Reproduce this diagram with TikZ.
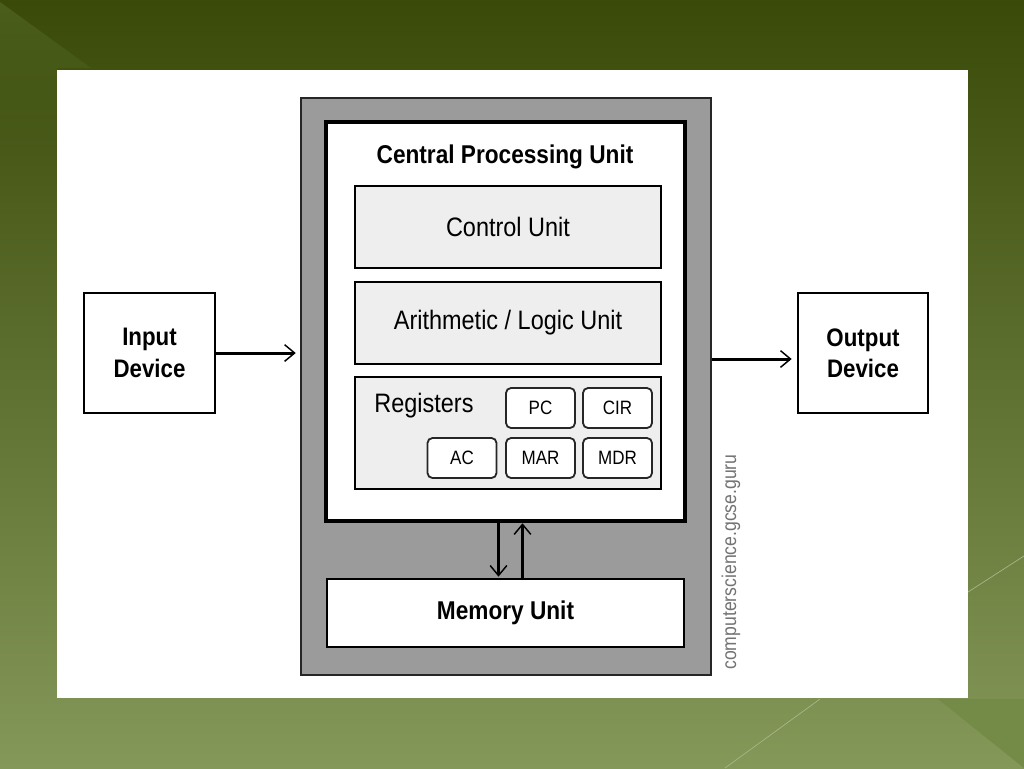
\documentclass[tikz,border=0pt]{standalone}
\usepackage{fontspec}
\setmainfont{Liberation Sans}[FakeStretch=0.88]
\usepackage{tikz}
\usetikzlibrary{arrows.meta,fadings}
\newdimen\px \px=0.75pt
\definecolor{olivetop}{HTML}{3A4A08}
\definecolor{olivebot}{HTML}{849859}
\definecolor{olivelite}{HTML}{4B5E1C}
\definecolor{olivewedge}{HTML}{748A47}
\definecolor{framegray}{HTML}{9B9B9B}
\definecolor{unitgray}{HTML}{EEEEEE}
\tikzstyle{framebox} = [draw=black!85, fill=framegray, line width=2.5\px, rectangle, minimum width=410\px, minimum height=577\px, inner sep=0pt]
\tikzstyle{cpubox} = [draw=black, fill=white, line width=4.5\px, rectangle, minimum width=359\px, minimum height=399\px, inner sep=0pt]
\tikzstyle{unitbox} = [draw=black, fill=unitgray, line width=2\px, rectangle, minimum width=306\px, minimum height=82\px, inner sep=0pt, font=\fontsize{20}{22}\selectfont]
\tikzstyle{regbox} = [draw=black!85, fill=white, line width=1.8\px, rectangle, rounded corners=5\px, minimum width=69\px, minimum height=40\px, inner sep=0pt, font=\fontsize{14.5}{16}\selectfont]
\tikzstyle{devbox} = [draw=black, fill=white, line width=2\px, rectangle, minimum width=131\px, minimum height=120\px, inner sep=0pt, align=center, font=\bfseries\fontsize{19}{23.5}\selectfont]
\tikzstyle{arr} = [line width=2.25pt, -{Straight Barb[length=7.5pt, width=12.5pt, line width=1.1pt]}]

\begin{document}
\begin{tikzpicture}[x=0.75pt,y=-0.75pt]
\useasboundingbox (0,0) rectangle (1024,768);
% slide background
\fill[top color=olivetop, bottom color=olivebot] (0,0) rectangle (1024,768);
\fill[olivelite, path fading=south] (0,2) -- (91,68) -- (57,68) -- (57,180) -- (0,180) -- cycle;
\fill[olivewedge] (938,699) -- (1024,768) -- (1024,699) -- cycle;
\draw[olivebot!70!white, line width=0.5pt] (820,699) -- (725,768);
\draw[olivebot!70!white, line width=0.5pt] (968,592) -- (1024,556);
\fill[white] (57,70) rectangle (968,698);

% computer
\node[framebox] (outer) at (506,386.5) {};
\node[cpubox] (cpu) at (505.5,321.5) {};
\node[font=\bfseries\fontsize{19.3}{21}\selectfont] (cputitle) at (505,157) {Central Processing Unit};
\node[unitbox] (cu) at (508,227) {Control Unit};
\node[unitbox] (alu) at (508,323) {Arithmetic / Logic Unit};
\node[unitbox, minimum height=112\px] (regs) at (508,433) {};
\node[font=\fontsize{20}{22}\selectfont] (regtitle) at (424,406) {Registers};
\node[regbox] (pc) at (540.5,408) {PC};
\node[regbox] (cir) at (617.5,408) {CIR};
\node[regbox] (ac) at (462,458) {AC};
\node[regbox] (mar) at (540.5,458) {MAR};
\node[regbox] (mdr) at (617.5,458) {MDR};
\node[unitbox, fill=white, minimum width=357\px, minimum height=68\px, font=\bfseries\fontsize{19.3}{21}\selectfont] (mem) at (505.5,613) {Memory Unit};

% devices
\node[devbox] (input) at (149.5,353) {Input\\Device};
\node[devbox, minimum width=130\px] (output) at (863,353) {Output\\Device};

% connectors
\draw[arr, shorten >=3pt] (input.east) -- (input.east -| outer.west);
\draw[arr, shorten >=4pt] ([yshift=-6\px]output.west -| outer.east) -- ([yshift=-6\px]output.west);
\draw[arr, shorten >=1pt] ([xshift=-7\px]cpu.south) -- ([xshift=-7\px]mem.north);
\draw[arr] ([xshift=17\px]mem.north) -- ([xshift=17\px]cpu.south);

\node[rotate=90, text=black!55, font=\fontsize{15}{17}\selectfont] (credit) at (731,562) {computerscience.gcse.guru};
\end{tikzpicture}
\end{document}
